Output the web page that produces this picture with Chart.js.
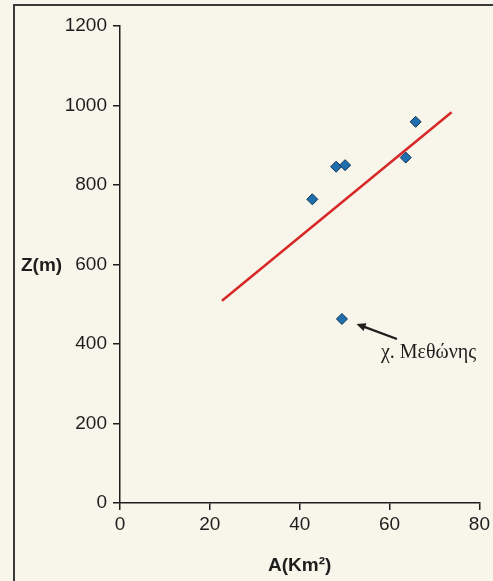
<!DOCTYPE html>
<html>
<head>
<meta charset="utf-8">
<script src="https://cdn.jsdelivr.net/npm/chart.js@4.4.0/dist/chart.umd.min.js"></script>
<style>
  html, body { margin: 0; padding: 0; background: #f8f5ea; overflow: hidden; }
  #frame {
    position: absolute; left: 13px; top: 4px; width: 600px; height: 700px;
    border: 2px solid #3a3a3a; box-sizing: border-box;
  }
  #wrap { position: absolute; left: 0; top: 0; width: 493px; height: 581px; }
</style>
</head>
<body>
<div id="frame"></div>
<div id="wrap"><canvas id="chart" width="493" height="581"></canvas></div>
<script>
// Data
const areaKm2 = [42.8, 48.1, 50.1, 63.6, 65.8, 49.4];
const heightM = [764, 846, 850, 869, 959, 463];
const trendX = [22.7, 73.8];
const trendY = [509, 983];
const noteLabel = 'χ. Μεθώνης';
const noteIndex = 5; // the point the arrow points to

const ink = '#1e1e1e';
const sans = '"Liberation Sans", Arial, sans-serif';

// Y title drawn horizontally + the arrow note
const extras = {
  id: 'extras',
  afterDraw(chart) {
    const ctx = chart.ctx;
    const xs = chart.scales.x, ys = chart.scales.y;
    ctx.save();
    // "Z(m)" to the left of the 600 tick
    ctx.font = 'bold 19px ' + sans;
    ctx.fillStyle = ink;
    ctx.textAlign = 'left';
    ctx.textBaseline = 'middle';
    ctx.fillText('Z(m)', 21, ys.getPixelForValue(600) + 1);

    // arrow to the low point
    const px = xs.getPixelForValue(areaKm2[noteIndex]);
    const py = ys.getPixelForValue(heightM[noteIndex]);
    const hx = px + 14.5, hy = py + 5;
    const tx = px + 55, ty = py + 20;
    const ang = Math.atan2(hy - ty, hx - tx);
    ctx.strokeStyle = ink;
    ctx.lineWidth = 2.3;
    ctx.beginPath();
    ctx.moveTo(tx, ty);
    ctx.lineTo(hx - 7 * Math.cos(ang), hy - 7 * Math.sin(ang));
    ctx.stroke();
    ctx.fillStyle = ink;
    ctx.beginPath();
    ctx.moveTo(hx, hy);
    ctx.lineTo(hx - 10 * Math.cos(ang - 0.42), hy - 10 * Math.sin(ang - 0.42));
    ctx.lineTo(hx - 10 * Math.cos(ang + 0.42), hy - 10 * Math.sin(ang + 0.42));
    ctx.closePath();
    ctx.fill();

    ctx.font = '20px "Liberation Serif", "DejaVu Serif", serif';
    ctx.textAlign = 'left';
    ctx.textBaseline = 'alphabetic';
    ctx.fillText(noteLabel, px + 39, py + 39);
    ctx.restore();
  }
};

new Chart(document.getElementById('chart'), {
  type: 'scatter',
  data: {
    datasets: [
      {
        type: 'line',
        data: trendX.map((x, i) => ({ x: x, y: trendY[i] })),
        borderColor: '#d72828',
        borderWidth: 2.5,
        pointRadius: 0,
        fill: false
      },
      {
        data: areaKm2.map((x, i) => ({ x: x, y: heightM[i] })),
        pointStyle: 'rectRot',
        pointRadius: 5.5,
        backgroundColor: '#1f6fb0',
        borderColor: '#0e3050',
        borderWidth: 1
      }
    ]
  },
  options: {
    responsive: false,
    animation: false,
    layout: { padding: { left: 0, right: 13, top: 26, bottom: 0 } },
    plugins: { legend: { display: false }, tooltip: { enabled: false } },
    scales: {
      x: {
        type: 'linear',
        min: 0, max: 80,
        afterFit(scale) { scale.height = 78; },
        ticks: { stepSize: 20, color: ink, padding: 3, font: { family: sans, size: 19 },
                 callback: v => String(v) },
        grid: { drawOnChartArea: false, tickLength: 7, color: ink, lineWidth: 1.5 },
        border: { display: true, color: ink, width: 1.5 },
        title: {
          display: true, text: 'A(Km²)', color: ink,
          font: { family: sans, size: 19, weight: 'bold' },
          padding: { top: 6, bottom: 4 }
        }
      },
      y: {
        min: 0, max: 1200,
        afterFit(scale) { scale.width = 120; },
        ticks: { stepSize: 200, color: ink, padding: 6, font: { family: sans, size: 19 },
                 callback: v => String(v) },
        grid: { drawOnChartArea: false, tickLength: 7, color: ink, lineWidth: 1.5 },
        border: { display: true, color: ink, width: 1.5 }
      }
    }
  },
  plugins: [extras]
});
</script>
</body>
</html>
